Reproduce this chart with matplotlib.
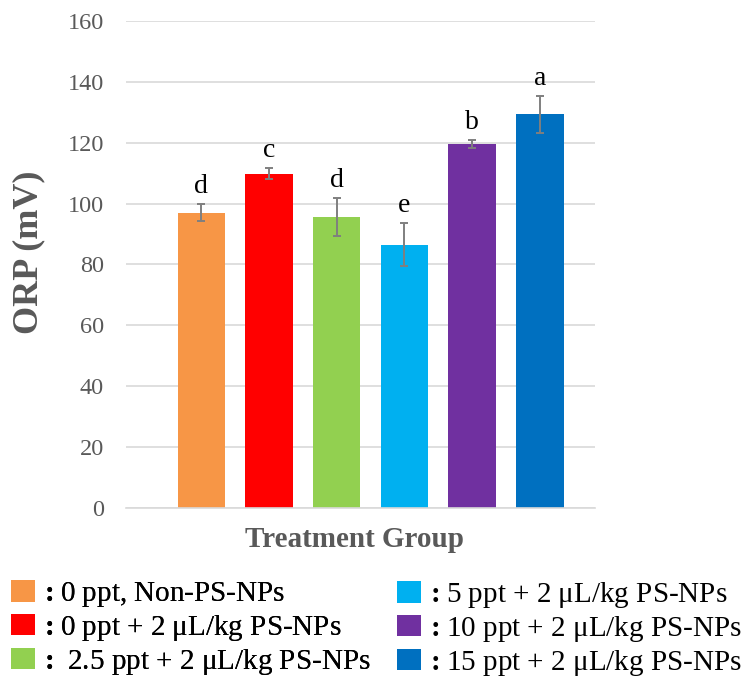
import matplotlib
matplotlib.use("Agg")
import matplotlib.pyplot as plt
from matplotlib.patches import Patch

plt.rcParams["font.family"] = ["Liberation Serif", "DejaVu Serif"]
plt.rcParams["mathtext.fontset"] = "custom"
plt.rcParams["mathtext.rm"] = "Liberation Serif"
plt.rcParams["mathtext.bf"] = "Liberation Serif:bold"

groups = [
    "0 ppt, Non-PS-NPs",
    "0 ppt + 2 \u03bcL/kg PS-NPs",
    " 2.5 ppt + 2 \u03bcL/kg PS-NPs",
    "5 ppt + 2 \u03bcL/kg PS-NPs",
    "10 ppt + 2 \u03bcL/kg PS-NPs",
    "15 ppt + 2 \u03bcL/kg PS-NPs",
]
orp_mean = [97.0, 109.8, 95.6, 86.5, 119.5, 129.3]
orp_sd = [2.8, 1.9, 6.3, 7.1, 1.2, 6.1]
letters = ["d", "c", "d", "e", "b", "a"]
colors = ["#F79646", "#FF0000", "#92D050", "#00B0F0", "#7030A0", "#0070C0"]
yticks = [0, 20, 40, 60, 80, 100, 120, 140, 160]

GRAY = "#595959"
GRID = "#D9D9D9"

fig = plt.figure(figsize=(7.56, 6.78), dpi=100)
ax = fig.add_axes([126 / 756, 1 - 508.3 / 678, 469 / 756, 487.6 / 678])

x = list(range(len(orp_mean)))
ax.bar(x, orp_mean, width=0.70, color=colors, zorder=2)
ax.errorbar(x, orp_mean, yerr=orp_sd, fmt="none", ecolor="#7F7F7F",
            elinewidth=1.4, capsize=3, capthick=1.4, zorder=3)

# significance letters above the error bars
for xi, m, s, lab in zip(x, orp_mean, orp_sd, letters):
    ax.annotate(lab, (xi, m + s), xytext=(0, 8), textcoords="offset points",
                ha="center", va="baseline", fontsize=20, color="black")

ax.set_xlim(-1.112, 5.815)
ax.set_ylim(0, 160)
ax.set_yticks(yticks)
ax.set_xticks([])
ax.yaxis.grid(True, color=GRID, linewidth=1.2, zorder=0)
ax.set_axisbelow(True)
ax.tick_params(axis="y", length=0, pad=16, labelsize=17.5, labelcolor=GRAY)
for side in ["left", "right", "top"]:
    ax.spines[side].set_visible(False)
ax.spines["bottom"].set_color(GRID)
ax.spines["bottom"].set_linewidth(1.2)

fig.text(29 / 756, 1 - 252 / 678, "ORP (mV)", rotation=90, ha="center",
         va="center", fontsize=26, fontweight="bold", color=GRAY)
fig.text(354 / 756, 1 - 547 / 678, "Treatment Group", ha="center",
         va="baseline", fontsize=21, fontweight="bold", color=GRAY)

handles = [Patch(facecolor=c, edgecolor="none") for c in colors]
labels = [r"$\mathbf{:}$" + g for g in groups]

leg_kw = dict(frameon=False, fontsize=21, handlelength=0.82, handleheight=0.75,
              handletextpad=0.15, labelspacing=0.13, borderpad=0,
              borderaxespad=0, loc="upper left")
leg1 = fig.legend(handles[:3], labels[:3],
                  bbox_to_anchor=(11 / 756, 1 - 580 / 678), **leg_kw)
fig.add_artist(leg1)
fig.legend(handles[3:], labels[3:],
           bbox_to_anchor=(397 / 756, 1 - 580 / 678), **leg_kw)

fig.savefig("out.png", dpi=100)
